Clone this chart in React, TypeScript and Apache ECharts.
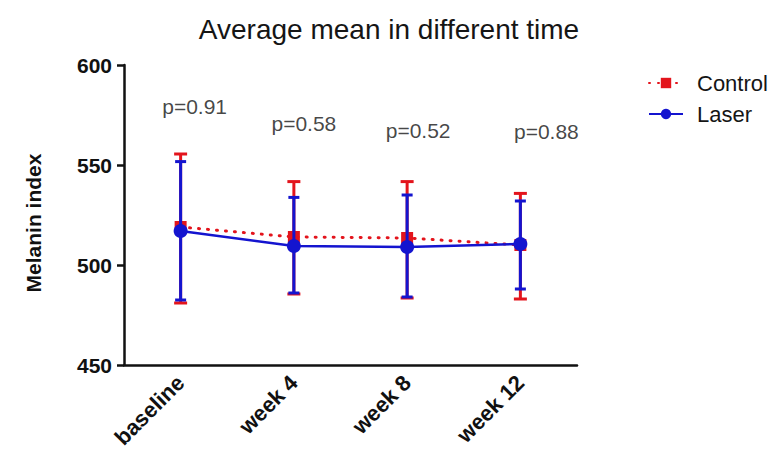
import React, { useEffect, useRef } from "react";
import * as echarts from "echarts";

const categories = ["baseline", "week 4", "week 8", "week 12"];
const controlMean = [519, 514, 513.5, 510];
const controlLow = [481, 485.5, 483.5, 483];
const controlHigh = [555.5, 541.7, 541.7, 535.8];
const laserMean = [517, 509.5, 509, 510.5];
const laserLow = [482.5, 486, 484, 488];
const laserHigh = [551.7, 533.8, 535, 532];
const pLabels = ["p=0.91", "p=0.58", "p=0.52", "p=0.88"];
const pLabelY = [579.5, 571, 567.5, 567];
const yTicks = [450, 500, 550, 600];

const RED = "#e3141c";
const BLUE = "#1414cf";
const FONT = "Liberation Sans, Arial, sans-serif";
const pLabelShift = [14, 10, 11, 26];

function errorBars(low: number[], high: number[], color: string, cap: number) {
  return {
    type: "custom",
    silent: true,
    z: color === BLUE ? 4 : 2,
    data: low.map((l, i) => [i, l, high[i]]),
    renderItem: (params: any, api: any) => {
      const x = api.value(0);
      const lo = api.coord([x, api.value(1)]);
      const hi = api.coord([x, api.value(2)]);
      const style = { stroke: color, lineWidth: 3 };
      return {
        type: "group",
        children: [
          { type: "line", shape: { x1: lo[0], y1: lo[1], x2: hi[0], y2: hi[1] }, style },
          { type: "line", shape: { x1: hi[0] - cap / 2, y1: hi[1], x2: hi[0] + cap / 2, y2: hi[1] }, style },
          { type: "line", shape: { x1: lo[0] - cap / 2, y1: lo[1], x2: lo[0] + cap / 2, y2: lo[1] }, style },
        ],
      };
    },
  };
}

export default function App() {
  const ref = useRef<HTMLDivElement>(null);
  useEffect(() => {
    const chart = echarts.init(ref.current!, null, { renderer: "svg" });
    chart.setOption({
      animation: false,
      backgroundColor: "#ffffff",
      title: {
        text: "Average mean in different time",
        left: 384,
        top: 10,
        textAlign: "center",
        textStyle: { fontFamily: FONT, fontSize: 28, fontWeight: "normal", color: "#151515" },
      },
      legend: {
        orient: "vertical",
        left: 643,
        top: 67,
        itemGap: 9,
        itemWidth: 34,
        itemHeight: 13,
        textStyle: { fontFamily: FONT, fontSize: 22, color: "#151515", padding: [0, 0, 0, 9] },
        data: ["Control", "Laser"],
      },
      grid: { left: 124, right: 197, top: 65, bottom: 92, containLabel: false },
      xAxis: {
        type: "category",
        data: categories,
        boundaryGap: true,
        axisLine: { lineStyle: { color: "#111", width: 2.5 } },
        axisTick: { alignWithLabel: true, length: 7, lineStyle: { color: "#111", width: 2.5 } },
        axisLabel: {
          rotate: 45,
          fontFamily: FONT,
          fontSize: 22,
          fontWeight: "bold",
          color: "#111",
          margin: 14,
        },
      },
      yAxis: {
        type: "value",
        min: 450,
        max: 600,
        interval: 50,
        name: "Melanin index",
        nameLocation: "middle",
        nameGap: 80,
        nameTextStyle: {
          fontFamily: FONT,
          fontSize: 21,
          fontWeight: "bold",
          color: "#111",
          padding: [0, 16, 0, 0],
        },
        splitLine: { show: false },
        axisLine: { show: true, lineStyle: { color: "#111", width: 2.5 } },
        axisTick: { show: true, length: 7, lineStyle: { color: "#111", width: 2.5 } },
        axisLabel: {
          fontFamily: FONT,
          fontSize: 21,
          fontWeight: "bold",
          color: "#111",
          margin: 12,
          formatter: (v: number) => (yTicks.includes(v) ? String(v) : ""),
        },
      },
      series: [
        errorBars(controlLow, controlHigh, RED, 13),
        errorBars(laserLow, laserHigh, BLUE, 11),
        {
          name: "Control",
          type: "line",
          data: controlMean,
          symbol: "rect",
          symbolSize: 12,
          z: 3,
          itemStyle: { color: RED },
          lineStyle: { color: RED, width: 3, type: [1, 8], cap: "round" },
        },
        {
          name: "Laser",
          type: "line",
          data: laserMean,
          symbol: "circle",
          symbolSize: 14,
          z: 5,
          itemStyle: { color: BLUE },
          lineStyle: { color: BLUE, width: 2.5 },
        },
        {
          name: "p",
          type: "scatter",
          data: pLabelY.map((v, i) => ({
            value: v,
            label: { offset: [pLabelShift[i], 0] },
          })),
          symbolSize: 0,
          silent: true,
          label: {
            show: true,
            position: "inside",
            fontFamily: FONT,
            fontSize: 21,
            color: "#151515",
            formatter: (p: any) => pLabels[p.dataIndex],
          },
        },
      ],
    });
    return () => chart.dispose();
  }, []);
  return (
    <div
      ref={ref}
      style={{ position: "absolute", left: 0, top: 0, width: 774, height: 457 }}
    />
  );
}
